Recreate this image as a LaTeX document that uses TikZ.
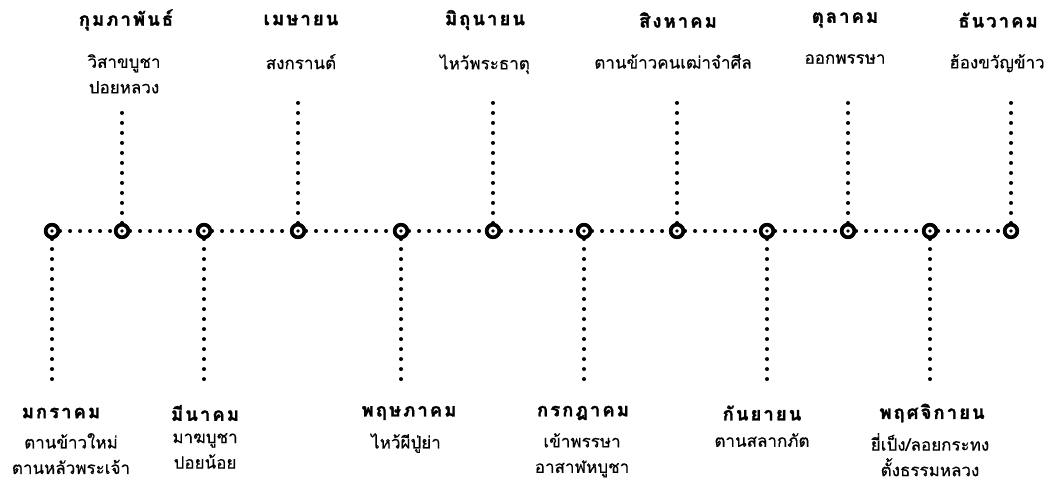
\documentclass[tikz,border=0pt]{standalone}
\usepackage{fontspec}
\newfontfamily\thaifont[Script=Thai,FakeBold=0.4]{Loma}
\newfontfamily\thaititle[Script=Thai,LetterSpace=11,BoldFeatures={FakeBold=1.6}]{Loma}
\begin{document}
\begin{tikzpicture}[x=1pt,y=-1pt,
  marker/.style={circle,draw=black,line width=3.6pt,fill=white,minimum size=12.5pt,inner sep=0pt,
    path picture={\fill[black] (path picture bounding box.center) circle (1.8pt);}},
  dotline/.style={line width=4pt,line cap=round,dash pattern=on 0pt off 10pt},
  title/.style={font=\thaititle\bfseries\fontsize{18.5}{22}\selectfont,inner sep=0pt,anchor=center},
  sub/.style={font=\thaifont\fontsize{17}{25.5}\selectfont,inner sep=0pt,align=center,anchor=north}
]
\useasboundingbox (0,0) rectangle (1049,484);
% markers
\foreach \i/\x in {1/52,2/122,3/204,4/298,5/401,6/493,7/584,8/677,9/767,10/848,11/930,12/1011}
  \node[marker] (m\i) at (\x,231) {};
% horizontal line
\foreach \i [evaluate=\i as \j using int(\i+1)] in {1,...,11}
  \draw[dotline] (m\i) -- (m\j);
% top endpoints
\coordinate (e2) at (122,108);
\coordinate (e4) at (298,98);
\coordinate (e6) at (493,98);
\coordinate (e8) at (677,98);
\coordinate (e10) at (848,98);
\coordinate (e12) at (1011,98);
% bottom endpoints
\foreach \i/\x in {1/52,3/204,5/401,7/584,9/767,11/930}
  \coordinate (e\i) at (\x,387);
\foreach \i in {1,...,12}
  \draw[dotline] (m\i) -- (e\i);
\foreach \i in {1,...,12}
  \node[marker] at (m\i) {};
% top labels
\node[title] (t2) at (126,20) {กุมภาพันธ์};
\node[sub] (s2) at (124,54) {วิสาขบูชา\\ปอยหลวง};
\node[title] (t4) at (301,20) {เมษายน};
\node[sub] (s4) at (301,54) {สงกรานต์};
\node[title] (t6) at (485,20) {มิถุนายน};
\node[sub] (s6) at (485,54) {ไหว้พระธาตุ};
\node[title] (t8) at (678,20) {สิงหาคม};
\node[sub] (s8) at (673,54) {ตานข้าวคนเฒ่าจำศีล};
\node[title] (t10) at (845,20) {ตุลาคม};
\node[sub] (s10) at (845,54) {ออกพรรษา};
\node[title] (t12) at (998,20) {ธันวาคม};
\node[sub] (s12) at (997,54) {ฮ้องขวัญข้าว};
% bottom labels
\node[title] (t1) at (61,413) {มกราคม};
\node[sub] (s1) at (71,433) {ตานข้าวใหม่\\ตานหลัวพระเจ้า};
\node[title] (t3) at (205,413) {มีนาคม};
\node[sub] (s3) at (205,433) {มาฆบูชา\\ปอยน้อย};
\node[title] (t5) at (409,413) {พฤษภาคม};
\node[sub] (s5) at (406,433) {ไหว้ผีปู่ย่า};
\node[title] (t7) at (583,413) {กรกฎาคม};
\node[sub] (s7) at (582,433) {เข้าพรรษา\\อาสาฬหบูชา};
\node[title] (t9) at (762,413) {กันยายน};
\node[sub] (s9) at (762,433) {ตานสลากภัต};
\node[title] (t11) at (932,413) {พฤศจิกายน};
\node[sub] (s11) at (930,433) {ยี่เป็ง/ลอยกระทง\\ตั้งธรรมหลวง};
\end{tikzpicture}
\end{document}
